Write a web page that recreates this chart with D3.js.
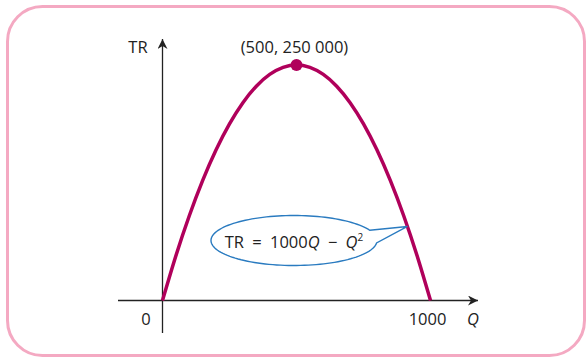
<!DOCTYPE html>
<html><head><meta charset="utf-8">
<script src="https://cdn.jsdelivr.net/npm/d3@7"></script>
<style>
html,body{margin:0;padding:0;background:#fff;}
svg{display:block;font-family:"Open Sans","Noto Sans",sans-serif;}
</style></head>
<body>
<svg id="c" width="586" height="358"></svg>
<script>
const quantities = [0, 50, 100, 150, 200, 250, 300, 350, 400, 450, 500, 550, 600, 650, 700, 750, 800, 850, 900, 950, 1000];
const revenue = [0, 47500, 90000, 127500, 160000, 187500, 210000, 227500, 240000, 247500, 250000, 247500, 240000, 227500, 210000, 187500, 160000, 127500, 90000, 47500, 0];
const peakPoint = [500, 250000];
const peakLabel = "(500, 250 000)";
const xTickLabels = ["0", "1000"];
const axisLabels = { x: "Q", y: "TR" };
const calloutQ = 914;
const calloutTR = 78600;

const svg = d3.select("#c");

// frame
svg.append("rect").attr("x", 7.5).attr("y", 6.5).attr("width", 577).attr("height", 349)
  .attr("rx", 35).attr("ry", 35).attr("fill", "none").attr("stroke", "#f4a9c2").attr("stroke-width", 3);

const x = d3.scaleLinear().domain([0, 1000]).range([162.5, 430.5]);
const y = d3.scaleLinear().domain([0, 250000]).range([300.5, 65]);

const defs = svg.append("defs");
defs.append("marker").attr("id", "arr").attr("viewBox", "0 0 10 10").attr("refX", 10).attr("refY", 5)
  .attr("markerWidth", 10).attr("markerHeight", 10).attr("markerUnits", "userSpaceOnUse").attr("orient", "auto")
  .append("path").attr("d", "M0,0 L10,5 L0,10 L3,5 Z").attr("fill", "#222");

// axes
svg.append("line").attr("x1", 118).attr("x2", 478).attr("y1", y(0)).attr("y2", y(0))
  .attr("stroke", "#222").attr("stroke-width", 1.3).attr("marker-end", "url(#arr)");
svg.append("line").attr("x1", x(0)).attr("x2", x(0)).attr("y1", 333).attr("y2", 39)
  .attr("stroke", "#222").attr("stroke-width", 1.3).attr("marker-end", "url(#arr)");

// curve
const line = d3.line().x((d, i) => x(quantities[i])).y(d => y(d)).curve(d3.curveNatural);
svg.append("path").attr("d", line(revenue)).attr("fill", "none")
  .attr("stroke", "#b0005b").attr("stroke-width", 3.5);

// peak
svg.append("circle").attr("cx", x(peakPoint[0])).attr("cy", y(peakPoint[1])).attr("r", 6).attr("fill", "#b0005b");

const FS = 16.5;
const txt = (t, xx, yy, anchor) => svg.append("text").attr("x", xx).attr("y", yy)
  .attr("text-anchor", anchor || "middle").attr("font-size", FS).attr("fill", "#222").text(t);

txt(peakLabel, x(peakPoint[0]) - 2, 53);
txt(axisLabels.y, 138, 53);
txt(xTickLabels[0], 146, 325);
txt(xTickLabels[1], 427.5, 325);
txt(axisLabels.x, 473, 325).attr("font-style", "italic");

// callout
const px = x(calloutQ), py = y(calloutTR);
const cx = 294, cy = 240.5, rx = 83, ry = 25;
const a1 = -0.42, a2 = 0.1;
const p2 = [cx + rx * Math.cos(a2), cy + ry * Math.sin(a2)];
const path = d3.path();
path.moveTo(p2[0], p2[1]);
const steps = 120;
for (let i = 1; i <= steps; i++) {
  const a = a2 + (2 * Math.PI - (a2 - a1)) * i / steps;
  path.lineTo(cx + rx * Math.cos(a), cy + ry * Math.sin(a));
}
path.lineTo(px, py);
path.closePath();
svg.append("path").attr("d", path.toString()).attr("fill", "#fff").attr("stroke", "#2a7bc0").attr("stroke-width", 1.4);

const t = svg.append("text").attr("x", cx) .attr("y", 248).attr("text-anchor", "middle")
  .attr("font-size", FS).attr("fill", "#222").attr("xml:space", "preserve");
t.append("tspan").text("TR\u2002=\u20021000");
t.append("tspan").attr("font-style", "italic").text("Q");
t.append("tspan").text("\u2002\u2212\u2002");
t.append("tspan").attr("font-style", "italic").text("Q");
t.append("tspan").attr("font-size", 10).attr("dy", -7).text("2");
</script>
</body></html>
